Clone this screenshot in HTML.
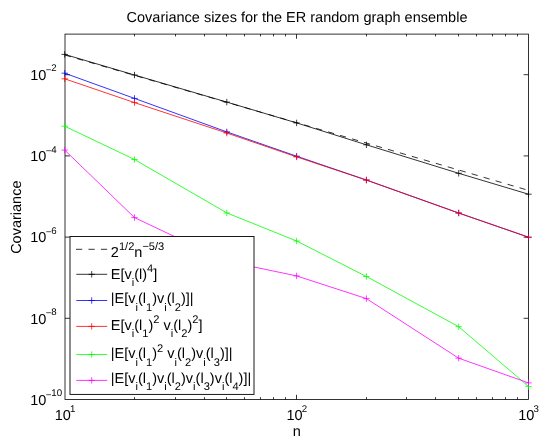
<!DOCTYPE html><html><head><meta charset="utf-8"><style>html,body{margin:0;padding:0;background:#fff}</style></head><body><div style="will-change:transform;width:554px;height:445px"><svg width="554" height="445" viewBox="0 0 554 445" style="display:block;font-family:'Liberation Sans',sans-serif;font-size:14.5px;text-rendering:geometricPrecision" fill="#000">
<rect x="0" y="0" width="554" height="445" fill="#fff"/>
<rect x="65" y="34.1" width="463.5" height="365.4" fill="none" stroke="#000" stroke-width="0.8"/>
<path d="M296.50 399.50v-4.7M296.50 34.10v4.7M134.50 399.50v-2.3M134.50 34.10v2.3M175.50 399.50v-2.3M175.50 34.10v2.3M204.50 399.50v-2.3M204.50 34.10v2.3M226.50 399.50v-2.3M226.50 34.10v2.3M244.50 399.50v-2.3M244.50 34.10v2.3M260.50 399.50v-2.3M260.50 34.10v2.3M273.50 399.50v-2.3M273.50 34.10v2.3M285.50 399.50v-2.3M285.50 34.10v2.3M366.50 399.50v-2.3M366.50 34.10v2.3M406.50 399.50v-2.3M406.50 34.10v2.3M435.50 399.50v-2.3M435.50 34.10v2.3M458.50 399.50v-2.3M458.50 34.10v2.3M476.50 399.50v-2.3M476.50 34.10v2.3M492.50 399.50v-2.3M492.50 34.10v2.3M505.50 399.50v-2.3M505.50 34.10v2.3M517.50 399.50v-2.3M517.50 34.10v2.3M65.00 74.70h4.9M528.50 74.70h-4.9M65.00 155.90h4.9M528.50 155.90h-4.9M65.00 237.10h4.9M528.50 237.10h-4.9M65.00 318.30h4.9M528.50 318.30h-4.9" stroke="#000" stroke-width="0.8" fill="none"/>
<line x1="65.00" y1="55.06" x2="528.50" y2="190.39" stroke="#000" stroke-width="0.8" stroke-dasharray="6.23 6.23"/>
<polyline points="64.70,54.40 134.51,75.00 226.79,102.10 296.60,122.90 366.41,144.80 458.69,173.30 528.50,194.20" fill="none" stroke="#000" stroke-width="0.8"/>
<path d="M61.50 54.40H67.90M64.70 51.20V57.60" stroke="#000" stroke-width="0.75" fill="none"/>
<path d="M131.31 75.00H137.71M134.51 71.80V78.20" stroke="#000" stroke-width="0.75" fill="none"/>
<path d="M223.59 102.10H229.99M226.79 98.90V105.30" stroke="#000" stroke-width="0.75" fill="none"/>
<path d="M293.40 122.90H299.80M296.60 119.70V126.10" stroke="#000" stroke-width="0.75" fill="none"/>
<path d="M363.21 144.80H369.61M366.41 141.60V148.00" stroke="#000" stroke-width="0.75" fill="none"/>
<path d="M455.49 173.30H461.89M458.69 170.10V176.50" stroke="#000" stroke-width="0.75" fill="none"/>
<path d="M525.30 194.20H531.70M528.50 191.00V197.40" stroke="#000" stroke-width="0.75" fill="none"/>
<polyline points="64.70,73.20 134.51,98.40 226.79,131.90 296.60,156.20 366.41,180.00 458.69,213.00 528.50,237.20" fill="none" stroke="#00f" stroke-width="0.8"/>
<path d="M61.50 73.20H67.90M64.70 70.00V76.40" stroke="#00f" stroke-width="0.75" fill="none"/>
<path d="M131.31 98.40H137.71M134.51 95.20V101.60" stroke="#00f" stroke-width="0.75" fill="none"/>
<path d="M223.59 131.90H229.99M226.79 128.70V135.10" stroke="#00f" stroke-width="0.75" fill="none"/>
<path d="M293.40 156.20H299.80M296.60 153.00V159.40" stroke="#00f" stroke-width="0.75" fill="none"/>
<path d="M363.21 180.00H369.61M366.41 176.80V183.20" stroke="#00f" stroke-width="0.75" fill="none"/>
<path d="M455.49 213.00H461.89M458.69 209.80V216.20" stroke="#00f" stroke-width="0.75" fill="none"/>
<path d="M525.30 237.20H531.70M528.50 234.00V240.40" stroke="#00f" stroke-width="0.75" fill="none"/>
<polyline points="64.70,78.80 134.51,102.60 226.79,133.00 296.60,156.90 366.41,180.10 458.69,213.00 528.50,237.20" fill="none" stroke="#f00" stroke-width="0.8"/>
<path d="M61.50 78.80H67.90M64.70 75.60V82.00" stroke="#f00" stroke-width="0.75" fill="none"/>
<path d="M131.31 102.60H137.71M134.51 99.40V105.80" stroke="#f00" stroke-width="0.75" fill="none"/>
<path d="M223.59 133.00H229.99M226.79 129.80V136.20" stroke="#f00" stroke-width="0.75" fill="none"/>
<path d="M293.40 156.90H299.80M296.60 153.70V160.10" stroke="#f00" stroke-width="0.75" fill="none"/>
<path d="M363.21 180.10H369.61M366.41 176.90V183.30" stroke="#f00" stroke-width="0.75" fill="none"/>
<path d="M455.49 213.00H461.89M458.69 209.80V216.20" stroke="#f00" stroke-width="0.75" fill="none"/>
<path d="M525.30 237.20H531.70M528.50 234.00V240.40" stroke="#f00" stroke-width="0.75" fill="none"/>
<polyline points="64.70,126.20 134.51,159.50 226.79,212.90 296.60,241.00 366.41,276.50 458.69,326.70 528.50,386.40" fill="none" stroke="#0f0" stroke-width="0.8"/>
<path d="M61.50 126.20H67.90M64.70 123.00V129.40" stroke="#0f0" stroke-width="0.75" fill="none"/>
<path d="M131.31 159.50H137.71M134.51 156.30V162.70" stroke="#0f0" stroke-width="0.75" fill="none"/>
<path d="M223.59 212.90H229.99M226.79 209.70V216.10" stroke="#0f0" stroke-width="0.75" fill="none"/>
<path d="M293.40 241.00H299.80M296.60 237.80V244.20" stroke="#0f0" stroke-width="0.75" fill="none"/>
<path d="M363.21 276.50H369.61M366.41 273.30V279.70" stroke="#0f0" stroke-width="0.75" fill="none"/>
<path d="M455.49 326.70H461.89M458.69 323.50V329.90" stroke="#0f0" stroke-width="0.75" fill="none"/>
<path d="M525.30 386.40H531.70M528.50 383.20V389.60" stroke="#0f0" stroke-width="0.75" fill="none"/>
<polyline points="64.70,150.10 134.51,217.60 226.79,261.30 296.60,275.90 366.41,298.60 458.69,358.20 528.50,382.90" fill="none" stroke="#f0f" stroke-width="0.8"/>
<path d="M61.50 150.10H67.90M64.70 146.90V153.30" stroke="#f0f" stroke-width="0.75" fill="none"/>
<path d="M131.31 217.60H137.71M134.51 214.40V220.80" stroke="#f0f" stroke-width="0.75" fill="none"/>
<path d="M223.59 261.30H229.99M226.79 258.10V264.50" stroke="#f0f" stroke-width="0.75" fill="none"/>
<path d="M293.40 275.90H299.80M296.60 272.70V279.10" stroke="#f0f" stroke-width="0.75" fill="none"/>
<path d="M363.21 298.60H369.61M366.41 295.40V301.80" stroke="#f0f" stroke-width="0.75" fill="none"/>
<path d="M455.49 358.20H461.89M458.69 355.00V361.40" stroke="#f0f" stroke-width="0.75" fill="none"/>
<path d="M525.30 382.90H531.70M528.50 379.70V386.10" stroke="#f0f" stroke-width="0.75" fill="none"/>
<text x="30.2" y="79.90">10<tspan x="45.7" dy="-7.2" font-size="9.7">−</tspan><tspan dy="-1.3" font-size="9.7">2</tspan></text>
<text x="30.2" y="161.10">10<tspan x="45.7" dy="-7.2" font-size="9.7">−</tspan><tspan dy="-1.3" font-size="9.7">4</tspan></text>
<text x="30.2" y="242.30">10<tspan x="45.7" dy="-7.2" font-size="9.7">−</tspan><tspan dy="-1.3" font-size="9.7">6</tspan></text>
<text x="30.2" y="323.50">10<tspan x="45.7" dy="-7.2" font-size="9.7">−</tspan><tspan dy="-1.3" font-size="9.7">8</tspan></text>
<text x="30.2" y="404.70">10<tspan x="45.7" dy="-7.2" font-size="9.7">−</tspan><tspan dy="-1.3" font-size="9.7">10</tspan></text>
<text x="54.80" y="420.4">10<tspan x="70.10" dy="-8.2" font-size="9.7">1</tspan></text>
<text x="286.55" y="420.4">10<tspan x="301.85" dy="-8.2" font-size="9.7">2</tspan></text>
<text x="518.30" y="420.4">10<tspan x="533.60" dy="-8.2" font-size="9.7">3</tspan></text>
<text x="296.75" y="435.8" text-anchor="middle">n</text>
<text x="297" y="22.4" text-anchor="middle">Covariance sizes for the ER random graph ensemble</text>
<text transform="translate(20.6,217.2) rotate(-90)" text-anchor="middle">Covariance</text>
<rect x="70" y="236.5" width="184" height="157.9" fill="#fff" stroke="#000" stroke-width="0.9"/>
<line x1="76.0" y1="249.3" x2="107.2" y2="249.3" stroke="#000" stroke-width="0.8" stroke-dasharray="6.23 6.23"/>
<line x1="76.3" y1="274.3" x2="107.2" y2="274.3" stroke="#000" stroke-width="0.8"/>
<path d="M88.50 274.30H94.90M91.70 271.10V277.50" stroke="#000" stroke-width="0.75" fill="none"/>
<line x1="76.3" y1="300.5" x2="107.2" y2="300.5" stroke="#00f" stroke-width="0.8"/>
<path d="M88.50 300.50H94.90M91.70 297.30V303.70" stroke="#00f" stroke-width="0.75" fill="none"/>
<line x1="76.3" y1="326.4" x2="107.2" y2="326.4" stroke="#f00" stroke-width="0.8"/>
<path d="M88.50 326.40H94.90M91.70 323.20V329.60" stroke="#f00" stroke-width="0.75" fill="none"/>
<line x1="76.3" y1="354.55" x2="107.2" y2="354.55" stroke="#0f0" stroke-width="0.8"/>
<path d="M88.50 354.55H94.90M91.70 351.35V357.75" stroke="#0f0" stroke-width="0.75" fill="none"/>
<line x1="76.3" y1="380.4" x2="107.2" y2="380.4" stroke="#f0f" stroke-width="0.8"/>
<path d="M88.50 380.40H94.90M91.70 377.20V383.60" stroke="#f0f" stroke-width="0.75" fill="none"/>
<text x="110.8" y="256.5">2<tspan dy="-6.6" font-size="11.1">1/2</tspan><tspan dy="6.6" font-size="14.5">​</tspan>n<tspan dy="-6.6" font-size="11.1">−5/3</tspan><tspan dy="6.6" font-size="14.5">​</tspan></text>
<text x="110.8" y="278.7">E[v<tspan dy="7.5" font-size="11.1">i</tspan><tspan dy="-7.5" font-size="14.5">​</tspan>(l)<tspan dy="-6.6" font-size="11.1">4</tspan><tspan dy="6.6" font-size="14.5">​</tspan>]</text>
<text x="110.8" y="303.2">|E[v<tspan dy="7.5" font-size="11.1">i</tspan><tspan dy="-7.5" font-size="14.5">​</tspan>(l<tspan dy="7.5" font-size="11.1">1</tspan><tspan dy="-7.5" font-size="14.5">​</tspan>)v<tspan dy="7.5" font-size="11.1">i</tspan><tspan dy="-7.5" font-size="14.5">​</tspan>(l<tspan dy="7.5" font-size="11.1">2</tspan><tspan dy="-7.5" font-size="14.5">​</tspan>)]|</text>
<text x="110.8" y="329.9">E[v<tspan dy="7.5" font-size="11.1">i</tspan><tspan dy="-7.5" font-size="14.5">​</tspan>(l<tspan dy="7.5" font-size="11.1">1</tspan><tspan dy="-7.5" font-size="14.5">​</tspan>)<tspan dy="-6.6" font-size="11.1">2</tspan><tspan dy="6.6" font-size="14.5">​</tspan> v<tspan dy="7.5" font-size="11.1">i</tspan><tspan dy="-7.5" font-size="14.5">​</tspan>(l<tspan dy="7.5" font-size="11.1">2</tspan><tspan dy="-7.5" font-size="14.5">​</tspan>)<tspan dy="-6.6" font-size="11.1">2</tspan><tspan dy="6.6" font-size="14.5">​</tspan>]</text>
<text x="110.8" y="358.4">|E[v<tspan dy="7.5" font-size="11.1">i</tspan><tspan dy="-7.5" font-size="14.5">​</tspan>(l<tspan dy="7.5" font-size="11.1">1</tspan><tspan dy="-7.5" font-size="14.5">​</tspan>)<tspan dy="-6.6" font-size="11.1">2</tspan><tspan dy="6.6" font-size="14.5">​</tspan> v<tspan dy="7.5" font-size="11.1">i</tspan><tspan dy="-7.5" font-size="14.5">​</tspan>(l<tspan dy="7.5" font-size="11.1">2</tspan><tspan dy="-7.5" font-size="14.5">​</tspan>)v<tspan dy="7.5" font-size="11.1">i</tspan><tspan dy="-7.5" font-size="14.5">​</tspan>(l<tspan dy="7.5" font-size="11.1">3</tspan><tspan dy="-7.5" font-size="14.5">​</tspan>)]|</text>
<text x="110.8" y="382.8">|E[v<tspan dy="7.5" font-size="11.1">i</tspan><tspan dy="-7.5" font-size="14.5">​</tspan>(l<tspan dy="7.5" font-size="11.1">1</tspan><tspan dy="-7.5" font-size="14.5">​</tspan>)v<tspan dy="7.5" font-size="11.1">i</tspan><tspan dy="-7.5" font-size="14.5">​</tspan>(l<tspan dy="7.5" font-size="11.1">2</tspan><tspan dy="-7.5" font-size="14.5">​</tspan>)v<tspan dy="7.5" font-size="11.1">i</tspan><tspan dy="-7.5" font-size="14.5">​</tspan>(l<tspan dy="7.5" font-size="11.1">3</tspan><tspan dy="-7.5" font-size="14.5">​</tspan>)v<tspan dy="7.5" font-size="11.1">i</tspan><tspan dy="-7.5" font-size="14.5">​</tspan>(l<tspan dy="7.5" font-size="11.1">4</tspan><tspan dy="-7.5" font-size="14.5">​</tspan>)]|</text>
</svg></div></body></html>
